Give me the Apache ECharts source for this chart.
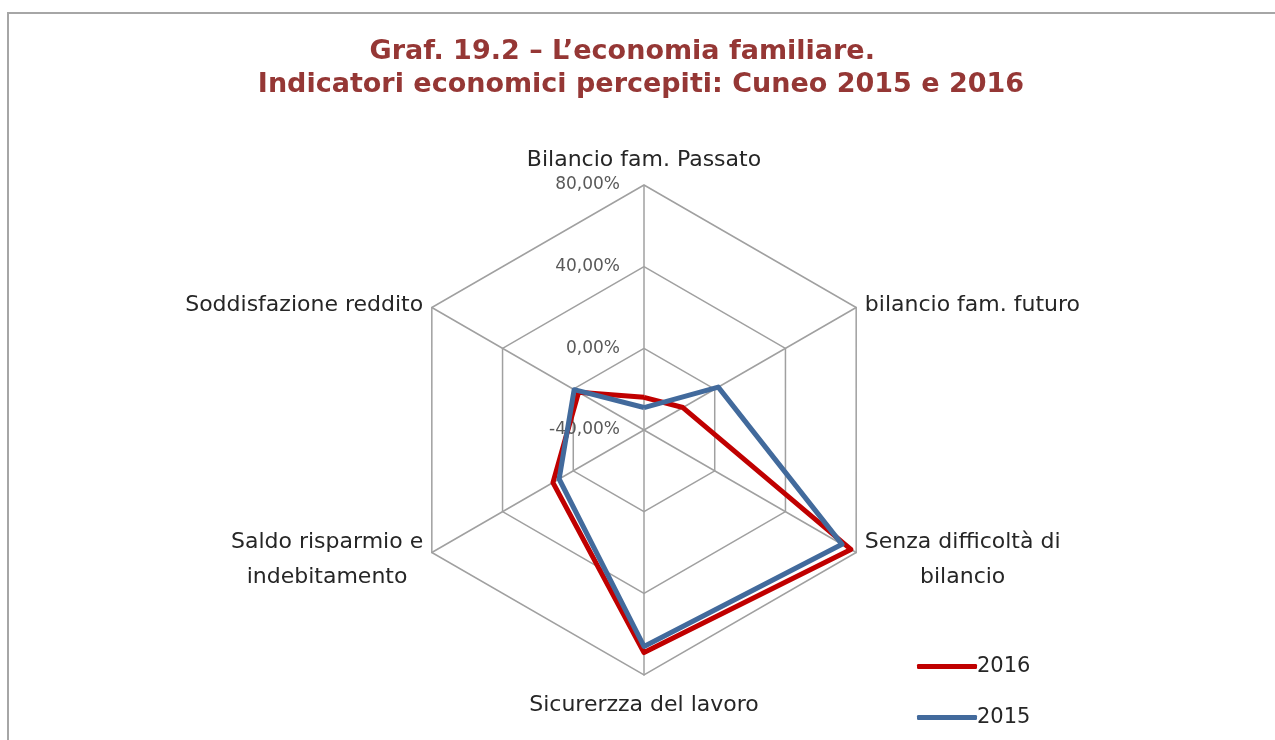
<!DOCTYPE html>
<html>
<head>
<meta charset="utf-8">
<script src="https://cdn.jsdelivr.net/npm/echarts@6/dist/echarts.min.js"></script>
<style>
  html, body { margin: 0; padding: 0; background: #fff; }
  #main { width: 1275px; height: 740px; }
  #frame { position: absolute; left: 7px; top: 12px; width: 1300px; height: 760px;
           border-left: 2px solid #a6a6a6; border-top: 2px solid #a6a6a6; pointer-events: none; }
</style>
</head>
<body>
<div id="main"></div>
<div id="frame"></div>
<script>
// assi in ordine orario a partire dall'alto (come nel grafico Excel)
var categories = ['Bilancio fam. Passato', 'bilancio fam. futuro', 'Senza difficoltà di\nbilancio',
  'Sicurerzza del lavoro', 'Saldo risparmio e\nindebitamento', 'Soddisfazione reddito'];
var y2016 = [-24, -18, 77, 69, 11.5, -3];
var y2015 = [-29, 2, 72, 66, 8, -0.5];
var axisMin = -40;
var axisMax = 80;
var legendNames = ['2016', '2015'];

var labelFont = '"DejaVu Sans", Verdana, sans-serif';

// ECharts gira in senso antiorario: tengo il primo e inverto il resto
function toCcw(arr) {
  return [arr[0]].concat(arr.slice(1).reverse());
}

var chart = echarts.init(document.getElementById('main'));

var indicator = toCcw(categories).map(function (name, i) {
  return {
    name: name,
    min: axisMin,
    max: axisMax,
    axisLabel: { show: i === 0 }
  };
});

var option = {
  backgroundColor: '#fff',
  animation: false,
  title: {
    // spazi finali come nel titolo originale
    text: 'Graf. 19.2 \u2013 L\u2019economia familiare.    \nIndicatori economici percepiti: Cuneo 2015 e 2016',
    left: 636,
    top: 30,
    textAlign: 'center',
    textStyle: {
      color: '#953735',
      fontSize: 27,
      fontWeight: 'bold',
      fontFamily: labelFont,
      lineHeight: 33
    }
  },
  legend: {
    orient: 'vertical',
    left: 912,
    top: 651,
    itemWidth: 60,
    itemHeight: 5,
    itemGap: 30,
    icon: 'roundRect',
    data: legendNames,
    textStyle: { color: '#262626', fontSize: 21, fontFamily: labelFont, padding: [0, 0, 0, -5] }
  },
  radar: {
    center: [644, 430],
    radius: 245,
    startAngle: 90,
    splitNumber: 3,
    shape: 'polygon',
    indicator: indicator,
    nameGap: 10,
    axisName: {
      color: '#262626',
      fontSize: 22,
      fontFamily: labelFont,
      formatter: function (v) {
        return v.split('\n').map(function (s) { return '{c|' + s + '}'; }).join('\n');
      },
      rich: {
        c: { align: 'center', fontSize: 22, fontFamily: labelFont, color: '#262626',
             lineHeight: 35, padding: [5, 0, 0, 0] }
      }
    },
    axisLine: { lineStyle: { color: '#a0a0a0', width: 1.5 } },
    splitLine: { lineStyle: { color: '#a0a0a0', width: 1.5 } },
    splitArea: { show: false },
    axisTick: { show: false },
    axisLabel: {
      color: '#595959',
      fontSize: 17,
      fontFamily: labelFont,
      margin: 24,
      padding: [5, 0, 0, 0],
      formatter: function (v) {
        return v.toFixed(2).replace('.', ',') + '%';
      }
    }
  },
  series: [{
    type: 'radar',
    symbol: 'none',
    data: [
      { name: legendNames[0], value: toCcw(y2016),
        lineStyle: { color: '#c00000', width: 5 }, itemStyle: { color: '#c00000' } },
      { name: legendNames[1], value: toCcw(y2015),
        lineStyle: { color: '#426a9c', width: 5 }, itemStyle: { color: '#426a9c' } }
    ]
  }]
};

chart.setOption(option);
</script>
</body>
</html>
